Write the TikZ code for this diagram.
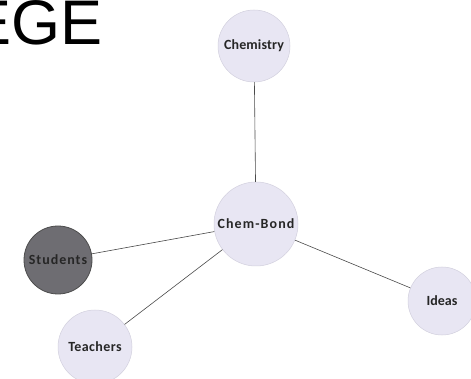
\documentclass[tikz,border=0pt]{standalone}
\usepackage{fontspec}
\setmainfont{Carlito}
\newfontfamily\arialfont{Liberation Sans}
\definecolor{bubble}{HTML}{E8E6F3}
\definecolor{bubbleline}{HTML}{D2D0DE}
\definecolor{darkbubble}{HTML}{6E6D72}
\definecolor{linkcol}{HTML}{4A4A4A}
\begin{document}
\begin{tikzpicture}[x=1pt,y=-1pt,
  bub/.style={circle,fill=bubble,draw=bubbleline,line width=0.5pt,inner sep=0pt,
    font=\bfseries\fontsize{14}{16}\selectfont,text=black!85},
  darkbub/.style={bub,fill=darkbubble,draw=black!70,line width=0.8pt},
  link/.style={draw=linkcol,line width=0.6pt}]
\useasboundingbox (0,0) rectangle (471,379);
\fill[white] (0,0) rectangle (471,379);
\begin{scope}
\clip (0,0) rectangle (471,379);
\node[anchor=base west,inner sep=0pt,font=\arialfont\fontsize{63}{66}\selectfont] (title) at (-31,45) {EGE};
\end{scope}
\node[bub,minimum size=72pt] (chem) at (254,46) {\addfontfeature{LetterSpace=1}Chemistry};
\node[bub,minimum size=84pt] (bond) at (256,224) {\addfontfeature{LetterSpace=8}Chem-Bond};
\node[darkbub,minimum size=68pt] (stud) at (58,260) {\addfontfeature{LetterSpace=7}Students};
\node[bub,minimum size=74pt] (teach) at (95,347) {\addfontfeature{LetterSpace=3}Teachers};
\node[bub,minimum size=68pt] (ideas) at (442,301) {Ideas};
\draw[link] (chem) -- (bond);
\draw[link] (bond) -- (stud);
\draw[link] (bond) -- (teach);
\draw[link] (bond) -- (ideas);
\end{tikzpicture}
\end{document}
